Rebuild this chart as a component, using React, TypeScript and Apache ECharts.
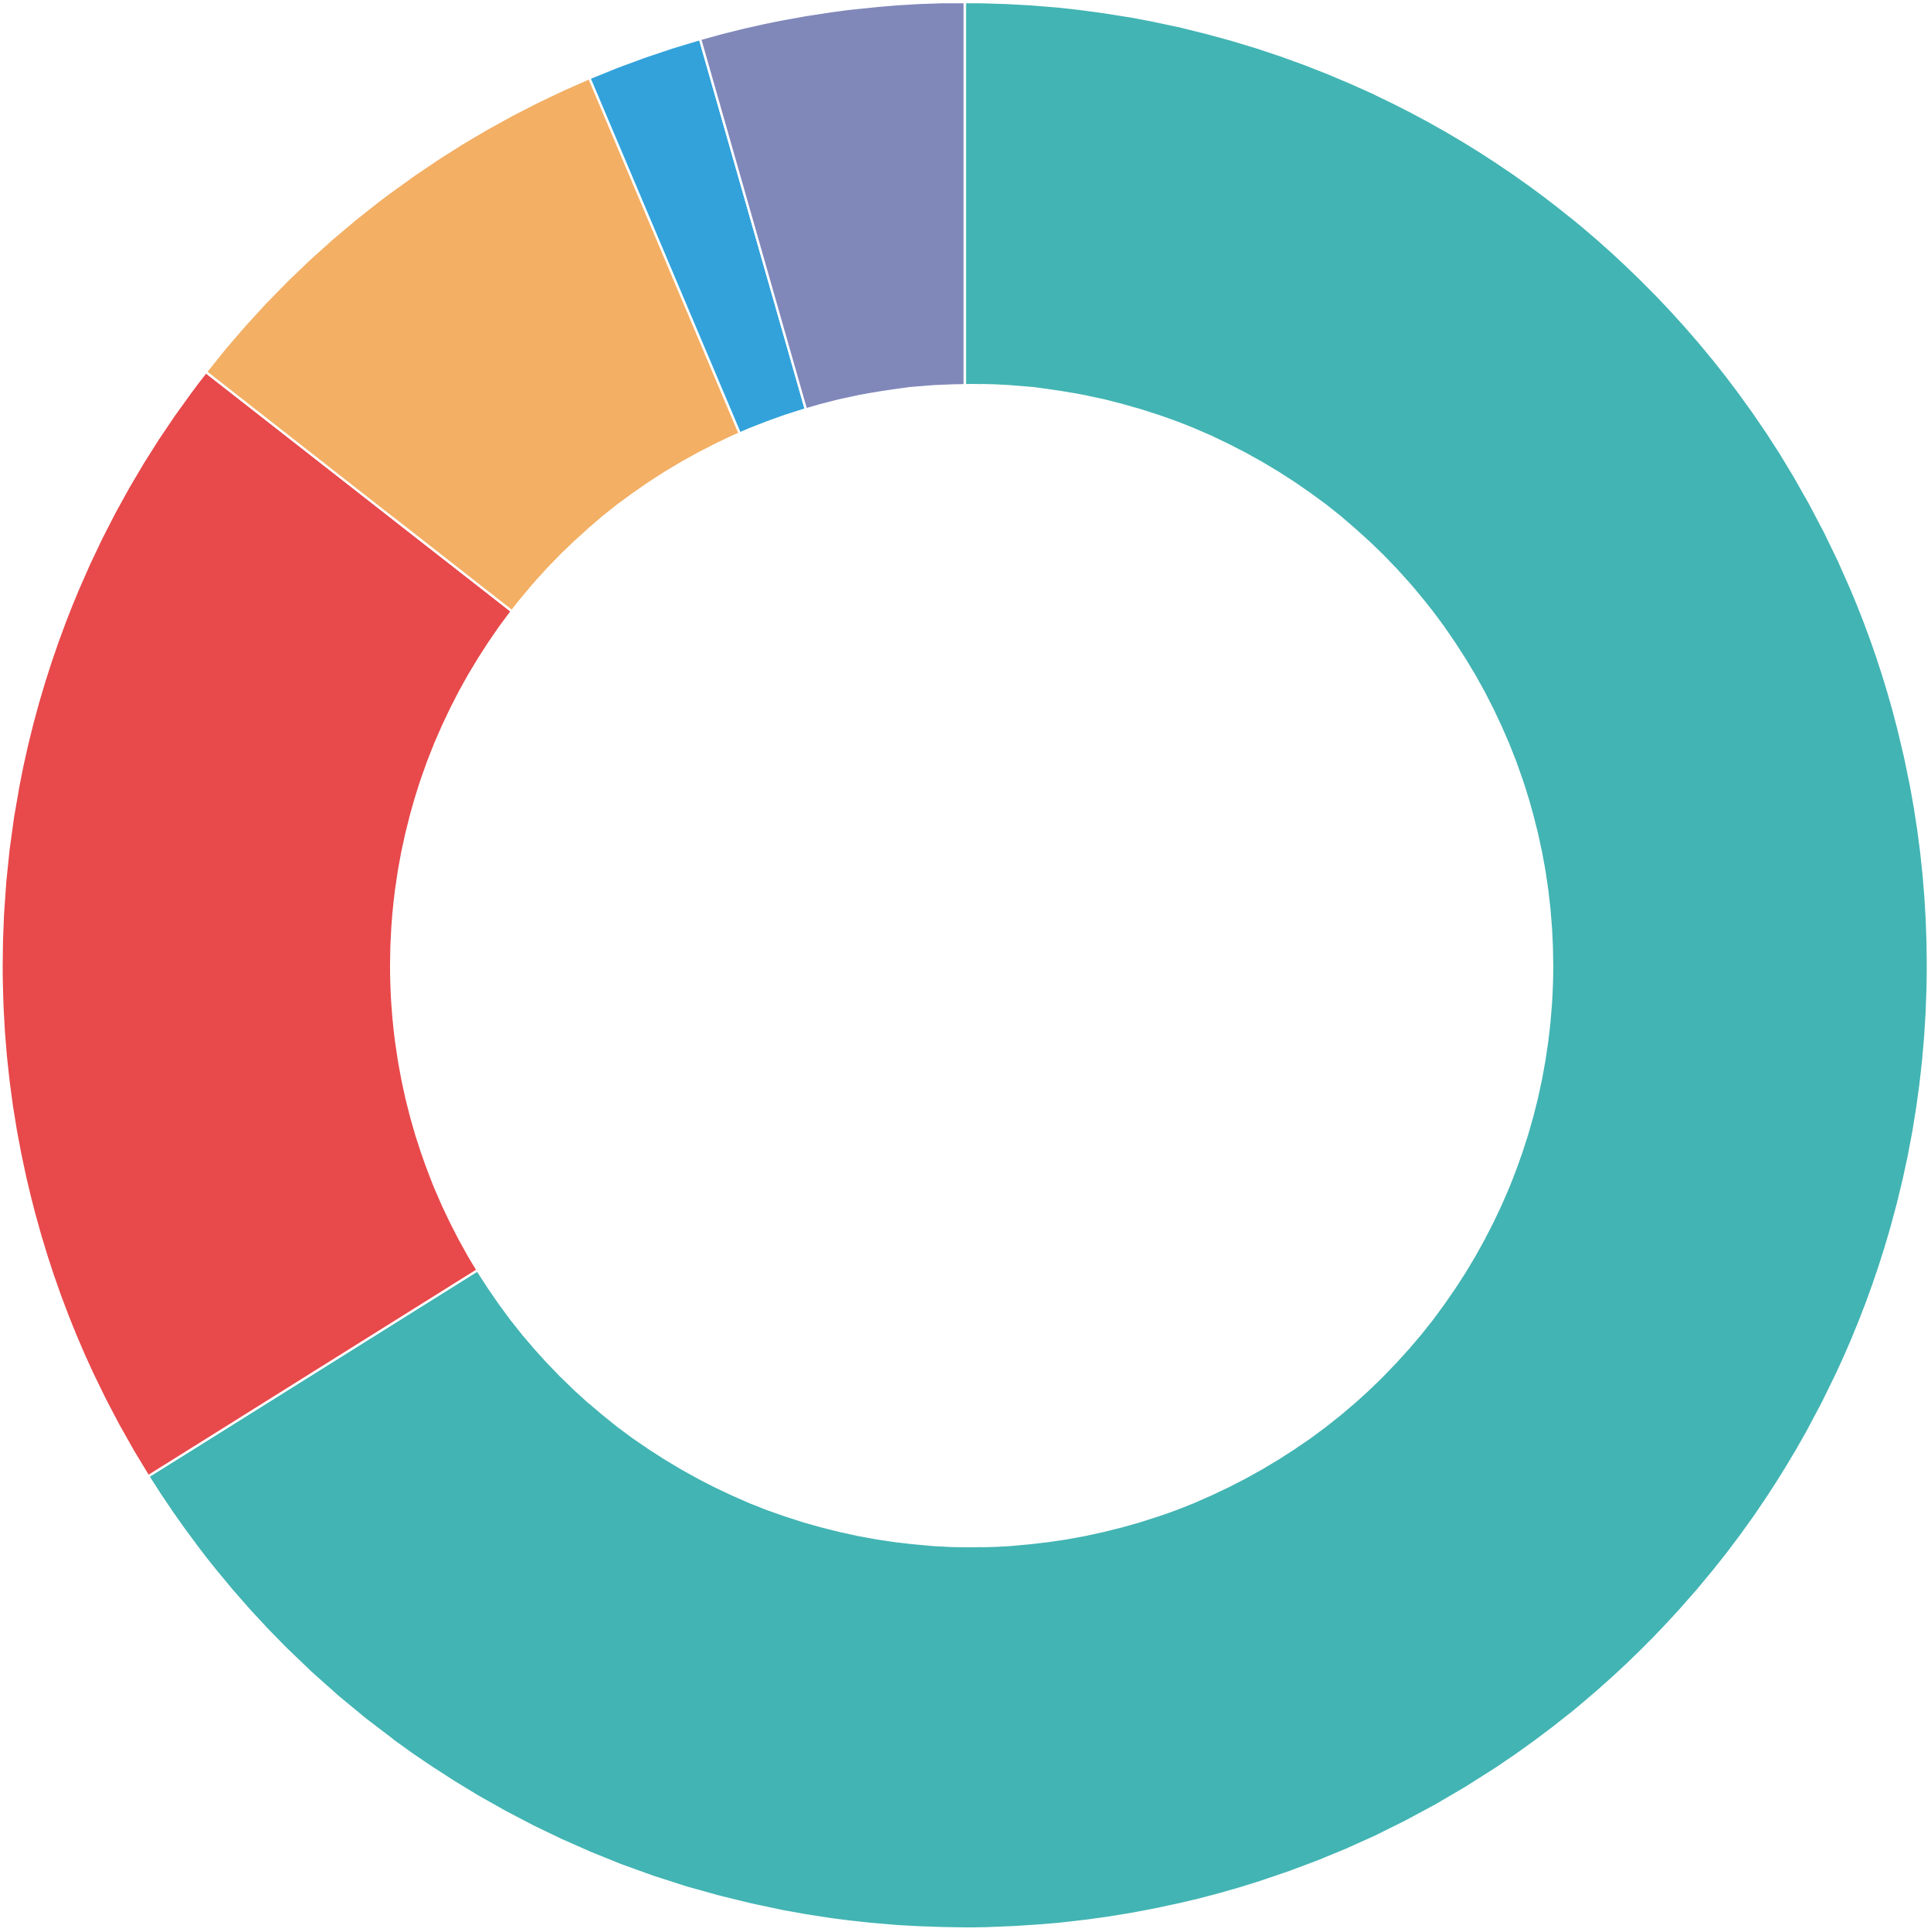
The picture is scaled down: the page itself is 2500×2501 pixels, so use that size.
import React, { useEffect, useRef } from "react";
import * as echarts from "echarts";

const categories = ["A", "B", "C", "D", "E"];
const values = [66.1, 19.46, 8.07, 1.94, 4.43];
const colors = ["#42B4B3", "#E8494B", "#F3AF64", "#33A2DB", "#8088BA"];

export default function App() {
  const ref = useRef<HTMLDivElement>(null);
  useEffect(() => {
    document.body.style.margin = "0";
    const chart = echarts.init(ref.current!, null, { renderer: "svg" });
    chart.setOption({
      animation: false,
      series: [
        {
          type: "pie",
          radius: [0, 1247],
          center: [1249, 1249.5],
          startAngle: 90,
          clockwise: true,
          label: { show: false },
          labelLine: { show: false },
          itemStyle: { borderColor: "#ffffff", borderWidth: 3 },
          emphasis: { disabled: true },
          data: categories.map((c, i) => ({
            name: c,
            value: values[i],
            itemStyle: { color: colors[i] },
          })),
        },
        {
          type: "pie",
          radius: [0, 753],
          center: [1258, 1250],
          silent: true,
          label: { show: false },
          labelLine: { show: false },
          itemStyle: { color: "#ffffff", borderWidth: 0 },
          emphasis: { disabled: true },
          data: [{ name: "hole", value: 1 }],
        },
      ],
    });
    return () => chart.dispose();
  }, []);
  return <div ref={ref} style={{ width: 2500, height: 2501 }} />;
}
